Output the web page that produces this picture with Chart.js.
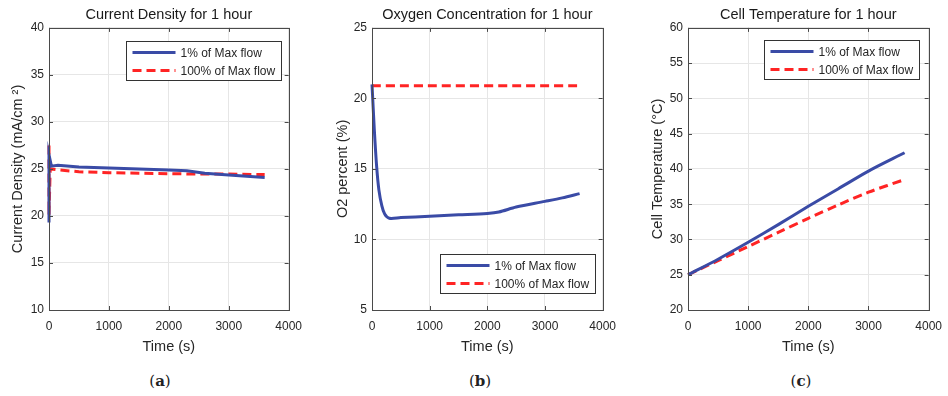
<!DOCTYPE html>
<html>
<head>
<meta charset="utf-8">
<script src="https://cdn.jsdelivr.net/npm/chart.js@4.4.1/dist/chart.umd.min.js"></script>
<style>
	body { margin: 0; background: #fff; }
	#wrap { position: relative; width: 948px; height: 396px; overflow: hidden; }
	.panel { position: absolute; top: 0; height: 360px; }
	.cap { position: absolute; top: 372px; font: 15px "DejaVu Serif", "Liberation Serif", serif; color: #222; transform: translateX(-50%); }
</style>
</head>
<body>
<div id="wrap">
	<div class="panel" style="left:0px;width:311px"><canvas id="chart-a"></canvas></div>
	<div class="panel" style="left:323px;width:302px"><canvas id="chart-b"></canvas></div>
	<div class="panel" style="left:639px;width:312px"><canvas id="chart-c"></canvas></div>
	<div class="cap" style="left:160px">(<b>a</b>)</div>
	<div class="cap" style="left:480px">(<b>b</b>)</div>
	<div class="cap" style="left:801px">(<b>c</b>)</div>
</div>
<script>
const colBlue = "#3a4ba6";
const colRed = "#ff2424";
const seriesLabels = ["1% of Max flow", "100% of Max flow"];
const timeTicks = [0, 1000, 2000, 3000, 4000];

// (a) current density
const timeCurLow = [0, 0, 40, 150, 500, 1000, 1500, 2000, 2300, 2600, 3000, 3600];
const curLow = [19.3, 26.5, 25.3, 25.4, 25.2, 25.1, 25.0, 24.9, 24.8, 24.55, 24.35, 24.1];
const timeCurHigh = [0, 0, 20, 150, 500, 1000, 1500, 2000, 2500, 3000, 3600];
const curHigh = [27.5, 20.1, 25.0, 24.9, 24.7, 24.6, 24.55, 24.5, 24.45, 24.45, 24.4];

// (b) oxygen concentration
const timeO2Low = [0, 40, 80, 120, 170, 220, 300, 500, 1000, 1500, 2000, 2200, 2500, 3000, 3300, 3600];
const o2Low = [21.0, 17.8, 15.2, 13.5, 12.4, 11.8, 11.5, 11.55, 11.65, 11.75, 11.85, 11.95, 12.3, 12.7, 12.95, 13.25];
const timeO2High = [0, 3600];
const o2High = [20.9, 20.9];

// (c) cell temperature
const timeTemp = [0, 500, 1000, 1500, 2000, 2500, 3000, 3600];
const tempLow = [25.0, 27.2, 29.6, 32.1, 34.7, 37.2, 39.7, 42.3];
const tempHigh = [25.0, 27.0, 29.0, 31.0, 33.0, 34.9, 36.7, 38.5];

Chart.defaults.font.family = '"Liberation Sans", Arial, sans-serif';
Chart.defaults.color = "#262626";

function pts(xs, ys) {
	return xs.map((x, i) => ({ x: x, y: ys[i] }));
}

// MATLAB-style box with inward ticks
const boxFrame = {
	id: "boxFrame",
	afterDatasetsDraw(chart) {
		const { ctx, chartArea: a, scales } = chart;
		ctx.save();
		ctx.strokeStyle = "#4a4a4a";
		ctx.lineWidth = 1;
		ctx.beginPath();
		scales.x.ticks.forEach((t) => {
			const px = Math.round(scales.x.getPixelForValue(t.value)) + 0.5;
			ctx.moveTo(px, a.bottom); ctx.lineTo(px, a.bottom - 4);
			ctx.moveTo(px, a.top); ctx.lineTo(px, a.top + 4);
		});
		scales.y.ticks.forEach((t) => {
			const py = Math.round(scales.y.getPixelForValue(t.value)) + 0.5;
			ctx.moveTo(a.left, py); ctx.lineTo(a.left + 4, py);
			ctx.moveTo(a.right, py); ctx.lineTo(a.right - 4, py);
		});
		ctx.stroke();
		ctx.strokeRect(Math.round(a.left) + 0.5, Math.round(a.top) + 0.5, Math.round(a.right - a.left), Math.round(a.bottom - a.top));
		ctx.restore();
	},
};

// legend box drawn inside the plot
const boxLegend = {
	id: "boxLegend",
	afterDraw(chart, args, opts) {
		const { ctx, chartArea: a } = chart;
		const sets = chart.data.datasets;
		ctx.save();
		ctx.font = '12px "Liberation Sans", Arial, sans-serif';
		const textW = Math.max(...sets.map((d) => ctx.measureText(d.label).width));
		const w = Math.round(6 + 43 + 5 + textW + 6);
		const h = 39;
		const x = Math.round(a.right - opts.right - w) + 0.5;
		const y = Math.round(opts.corner === "top" ? a.top + opts.top : a.bottom - opts.bottom - h) + 0.5;
		ctx.fillStyle = "#fff";
		ctx.fillRect(x, y, w, h);
		ctx.strokeStyle = "#333";
		ctx.lineWidth = 1;
		ctx.strokeRect(x, y, w, h);
		sets.forEach((d, i) => {
			const ry = y + 11 + i * 18;
			ctx.strokeStyle = d.borderColor;
			ctx.lineWidth = d.borderWidth;
			ctx.setLineDash(d.borderDash || []);
			ctx.beginPath();
			ctx.moveTo(x + 6, ry);
			ctx.lineTo(x + 49, ry);
			ctx.stroke();
			ctx.setLineDash([]);
			ctx.fillStyle = "#262626";
			ctx.textBaseline = "middle";
			ctx.fillText(d.label, x + 54, ry + 1);
		});
		ctx.restore();
	},
};

function makePanel(id, title, yTitle, yMin, yMax, low, high, legend, yTitlePad, tension) {
	new Chart(document.getElementById(id), {
		type: "line",
		data: {
			datasets: [
				{
					label: seriesLabels[0],
					data: low,
					borderColor: colBlue,
					borderWidth: 3,
					pointRadius: 0,
					tension: tension,
					clip: 4,
				},
				{
					label: seriesLabels[1],
					data: high,
					borderColor: colRed,
					borderWidth: 3,
					borderDash: [9, 5],
					pointRadius: 0,
					tension: tension,
					clip: 4,
				},
			],
		},
		options: {
			responsive: true,
			maintainAspectRatio: false,
			animation: false,
			layout: { padding: { left: 0, right: 6, top: 0, bottom: 0 } },
			plugins: {
				legend: { display: false },
				tooltip: { enabled: false },
				title: {
					display: true,
					text: title,
					fullSize: false,
					color: "#1a1a1a",
					font: { size: 14.5, weight: "normal" },
					padding: { top: 6, bottom: 4.5 },
				},
				boxLegend: legend,
			},
			scales: {
				x: {
					type: "linear",
					min: 0,
					max: 4000,
					afterBuildTicks: (s) => { s.ticks = timeTicks.map((v) => ({ value: v })); },
					afterFit: (s) => { s.height = 50; },
					ticks: { padding: 9, font: { size: 12 }, maxRotation: 0, callback: (v) => String(v) },
					grid: { color: "#e6e6e6", drawTicks: false },
					border: { display: false },
					title: { display: true, text: "Time (s)", font: { size: 14.5 }, padding: { top: 4, bottom: 4 } },
				},
				y: {
					min: yMin,
					max: yMax,
					afterFit: (s) => { s.width = 49; },
					ticks: { stepSize: 5, padding: 5, font: { size: 12 } },
					grid: { color: "#e6e6e6", drawTicks: false },
					border: { display: false },
					title: { display: true, text: yTitle, font: { size: 14.5 }, padding: { top: yTitlePad, bottom: 0 } },
				},
			},
		},
		plugins: [boxFrame, boxLegend],
	});
}

makePanel("chart-a", "Current Density for 1 hour", "Current Density (mA/cm ²)", 10, 40,
	pts(timeCurLow, curLow), pts(timeCurHigh, curHigh), { corner: "top", top: 13, right: 8 }, 9.3, 0);
makePanel("chart-b", "Oxygen Concentration for 1 hour", "O2 percent (%)", 5, 25,
	pts(timeO2Low, o2Low), pts(timeO2High, o2High), { corner: "bottom", bottom: 17, right: 8 }, 11.3, 0.3);
makePanel("chart-c", "Cell Temperature for 1 hour", "Cell Temperature (°C)", 20, 60,
	pts(timeTemp, tempLow), pts(timeTemp, tempHigh), { corner: "top", top: 12, right: 10 }, 10.3, 0.3);
</script>
</body>
</html>
